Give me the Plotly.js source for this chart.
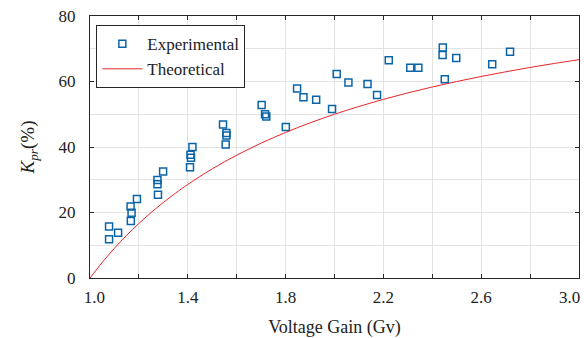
<!DOCTYPE html>
<html>
<head>
<meta charset="utf-8">
<script src="https://cdn.plot.ly/plotly-3.0.1.min.js"></script>
<style>html,body{margin:0;padding:0;background:#fff;}#chart{width:584px;height:338px;}</style>
</head>
<body>
<div id="chart"></div>
<script>
// Experimental measurements
const expGain = [1.078, 1.078, 1.115, 1.166, 1.170, 1.167, 1.192, 1.276, 1.276, 1.278, 1.299,
  1.409, 1.411, 1.413, 1.419, 1.544, 1.558, 1.558, 1.555, 1.702, 1.716, 1.721, 1.801,
  1.847, 1.873, 1.925, 1.990, 2.009, 2.057, 2.135, 2.174, 2.222, 2.310, 2.343,
  2.443, 2.442, 2.451, 2.498, 2.645, 2.718];
const expKpr = [15.7, 11.8, 13.8, 21.8, 19.9, 17.4, 24.1, 29.9, 28.6, 25.4, 32.5,
  33.8, 37.6, 36.7, 40.0, 46.9, 44.3, 43.5, 40.8, 52.8, 50.0, 49.3, 46.1,
  57.9, 55.2, 54.4, 51.6, 62.3, 59.7, 59.2, 55.9, 66.5, 64.2, 64.2,
  70.4, 68.1, 60.7, 67.2, 65.3, 69.1];
// Theoretical curve
const theoGain = [1.0, 1.05, 1.1, 1.15, 1.2, 1.25, 1.3, 1.35, 1.4, 1.5, 1.6, 1.7, 1.8, 1.9,
  2.0, 2.1, 2.2, 2.3, 2.4, 2.5, 2.6, 2.7, 2.8, 2.9, 3.0];
const theoKpr = [0, 4.76, 9.09, 13.04, 16.67, 20.0, 23.08, 25.93, 28.57, 33.33, 37.5, 41.18, 44.44, 47.37,
  50.0, 52.38, 54.55, 56.52, 58.33, 60.0, 61.54, 62.96, 64.29, 65.52, 66.67];
const seriesNames = ['Experimental', 'Theoretical'];
const xTickVals = [1.0, 1.4, 1.8, 2.2, 2.6];
const xTickText = ['\u00a0\u00a01.0', '1.4', '1.8', '2.2', '2.6'];
const xLastTickVal = 3.0;
const xLastTickText = '3.0';
const yTickVals = [0, 20, 40, 60, 80];
const xTitle = 'Voltage Gain (Gv)';
const yTitle = '<i>K</i><sub><i>pr</i></sub>(%)';

const FONT = "'Liberation Serif', serif";
const txtCol = '#222222';
const axisCol = '#262626';
const gridCol = '#e3e3e3';

const traces = [
  {x: expGain, y: expKpr, name: seriesNames[0], type: 'scatter', mode: 'markers',
   marker: {symbol: 'square-open', size: 7, color: '#0a64a8', line: {width: 1.5, color: '#0a64a8'}}},
  {x: theoGain, y: theoKpr, name: seriesNames[1], type: 'scatter', mode: 'lines',
   line: {color: '#e8262a', width: 1, shape: 'spline'}}
];

const layout = {
  width: 584, height: 338,
  margin: {l: 90, r: 5, t: 16, b: 60},
  paper_bgcolor: '#fff', plot_bgcolor: '#fff',
  font: {family: FONT, size: 17, color: txtCol},
  showlegend: true,
  legend: {x: 0.013, y: 0.965, xanchor: 'left', yanchor: 'top', bgcolor: '#fff',
    bordercolor: axisCol, borderwidth: 1, font: {family: FONT, size: 17, color: txtCol},
    itemwidth: 40, tracegroupgap: 0},
  xaxis: {range: [1.0, 3.0], tickmode: 'array', tickvals: xTickVals, ticktext: xTickText,
    ticklabeloverflow: 'allow',
    showline: true, linecolor: axisCol, linewidth: 1, mirror: 'ticks',
    ticks: 'inside', ticklen: 4, tickcolor: axisCol,
    showgrid: true, gridcolor: gridCol, zeroline: false,
    minor: {dtick: 0.2, tick0: 1.0, showgrid: true, gridcolor: gridCol, ticks: 'inside', ticklen: 4, tickcolor: axisCol},
    tickfont: {family: FONT, size: 17, color: txtCol},
    ticklabelstandoff: 4,
    title: {text: xTitle, font: {family: FONT, size: 18, color: txtCol}, standoff: 14}},
  yaxis: {range: [0, 80], tickmode: 'array', tickvals: yTickVals,
    ticklabeloverflow: 'allow',
    showline: true, linecolor: axisCol, linewidth: 1, mirror: 'ticks',
    ticks: 'inside', ticklen: 4, tickcolor: axisCol,
    showgrid: true, gridcolor: gridCol, zeroline: false,
    minor: {dtick: 10, tick0: 0, showgrid: true, gridcolor: gridCol, ticks: ''},
    tickfont: {family: FONT, size: 17, color: txtCol},
    ticklabelstandoff: 10,
    title: {text: yTitle, font: {family: FONT, size: 19, color: txtCol}, standoff: 18}},
  annotations: [
    {x: xLastTickVal, xref: 'x', y: 0, yref: 'paper', yanchor: 'top', yshift: -8,
     xanchor: 'right', xshift: 3, text: xLastTickText, showarrow: false,
     font: {family: FONT, size: 17, color: txtCol}}
  ]
};

Plotly.newPlot('chart', traces, layout, {displayModeBar: false, staticPlot: true});
</script>
</body>
</html>
